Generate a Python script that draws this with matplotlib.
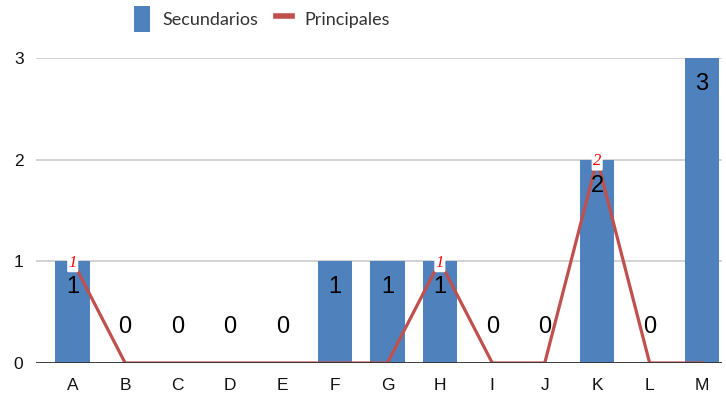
import matplotlib
matplotlib.use("Agg")
import matplotlib.pyplot as plt
from matplotlib.patches import Patch
from matplotlib.lines import Line2D

categorias = ["A", "B", "C", "D", "E", "F", "G", "H", "I", "J", "K", "L", "M"]
secundarios = [1, 0, 0, 0, 0, 1, 1, 1, 0, 0, 2, 0, 3]
principales = [1, 0, 0, 0, 0, 0, 0, 1, 0, 0, 2, 0, 0]

azul = "#4f81bd"
rojo = "#c0504d"

plt.rcParams["font.family"] = ["Liberation Sans", "DejaVu Sans"]

fig = plt.figure(figsize=(7.26, 3.94), dpi=100)
ax = fig.add_axes([36 / 726, 31 / 394, 686 / 726, 305 / 394])

x = list(range(len(categorias)))
ax.bar(x, secundarios, width=0.66, color=azul, zorder=2)
ax.plot(x, principales, color=rojo, lw=2.3, zorder=3, solid_joinstyle="miter")

# etiquetas de las barras
for i, v in enumerate(secundarios):
    if v > 0:
        ax.annotate(str(v), (i, v), xytext=(0, -23), textcoords="offset points",
                    ha="center", va="baseline", fontsize=17, color="black", zorder=4)
    else:
        ax.annotate(str(v), (i, 0), xytext=(0, 21.5), textcoords="offset points",
                    ha="center", va="baseline", fontsize=17, color="black", zorder=4)

# etiquetas de la serie de línea (solo valores distintos de cero)
for i, v in enumerate(principales):
    if v > 0:
        ax.annotate(str(v), (i, v), xytext=(0, -4), textcoords="offset points",
                    ha="center", va="baseline", fontsize=12, color="red",
                    family=["Liberation Serif"], style="italic", zorder=5,
                    bbox=dict(boxstyle="round,pad=0.08", fc="white", ec="none"))

ax.set_xlim(-0.7, 12.38)
ax.set_ylim(0, 3)
ax.set_xticks(x)
ax.set_xticklabels(categorias)
ax.set_yticks([0, 1, 2, 3])
ax.tick_params(axis="both", length=0, labelsize=12.5, colors="#111111")
ax.tick_params(axis="x", pad=11)
ax.tick_params(axis="y", pad=9)
ax.grid(axis="y", color="#cccccc", lw=1.2, zorder=0)
ax.axhline(0, color="#333333", lw=1.3, zorder=3.5)
for s in ax.spines.values():
    s.set_visible(False)

handles = [Patch(facecolor=azul, edgecolor="none", label="Secundarios"),
           Line2D([], [], color=rojo, lw=4, label="Principales")]
fig.legend(handles=handles, loc="center", bbox_to_anchor=(262 / 726, 1 - 19 / 394),
           ncol=2, frameon=False, labelcolor="#333333",
           prop={"family": ["Lato", "DejaVu Sans"], "size": 13},
           handlelength=0.85, handleheight=1.8, handletextpad=0.7, columnspacing=1.0)

fig.savefig("out.png", dpi=100)
